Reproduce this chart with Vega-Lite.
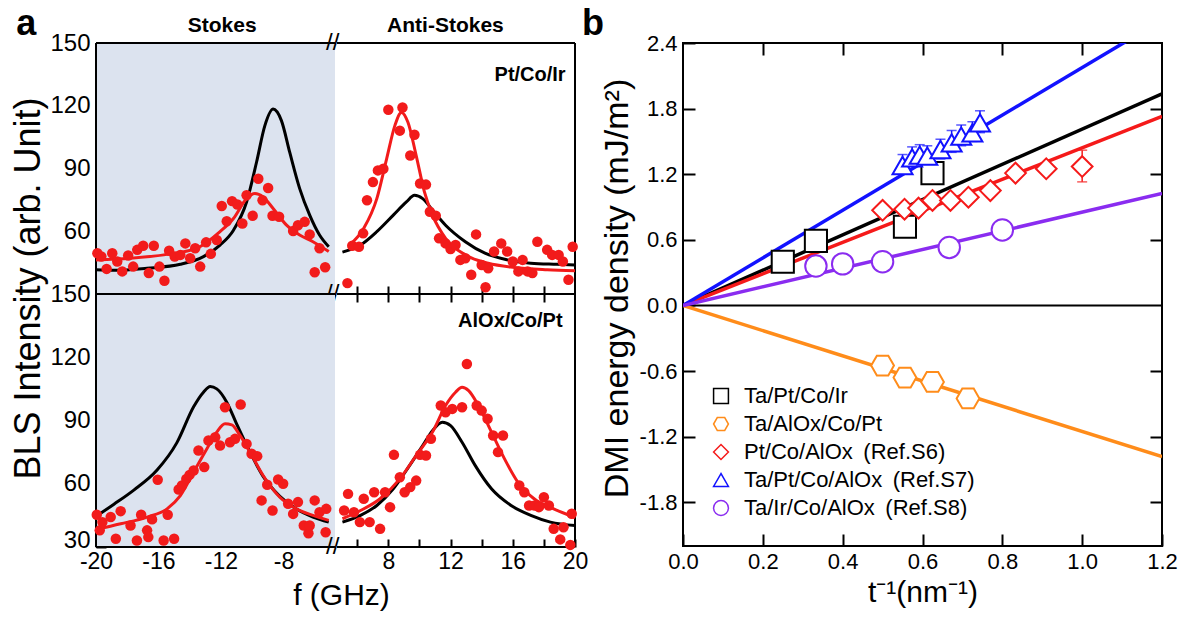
{
  "$schema": "https://vega.github.io/schema/vega-lite/v6.json",
  "padding": {"left": 9, "top": 4, "right": 5, "bottom": 5},
  "background": "white",
  "config": {
    "font": "Liberation Sans",
    "view": {"stroke": "black", "strokeWidth": 2},
    "axis": {"grid": false, "domain": false, "tickColor": "black", "tickWidth": 2, "labelColor": "black", "titleColor": "black", "labelFont": "Liberation Sans", "titleFont": "Liberation Sans", "titleFontWeight": "normal", "labelFlush": false, "labelOverlap": false}
  },
  "datasets": {
    "aPts": [
      {"p":"t","f":-19.91,"v":49.5},{"p":"t","f":-19.66,"v":47.9},{"p":"t","f":-19.32,"v":42.0},{"p":"t","f":-18.96,"v":49.5},{"p":"t","f":-18.64,"v":45.5},{"p":"t","f":-18.32,"v":40.8},{"p":"t","f":-17.94,"v":48.4},{"p":"t","f":-17.62,"v":43.1},{"p":"t","f":-17.36,"v":51.1},{"p":"t","f":-16.98,"v":53.1},{"p":"t","f":-16.62,"v":40.0},{"p":"t","f":-16.3,"v":53.1},{"p":"t","f":-15.94,"v":43.1},{"p":"t","f":-15.62,"v":36.3},{"p":"t","f":-15.32,"v":50.7},{"p":"t","f":-14.96,"v":47.9},{"p":"t","f":-14.6,"v":48.7},{"p":"t","f":-14.28,"v":54.2},{"p":"t","f":-13.97,"v":47.1},{"p":"t","f":-13.65,"v":51.9},{"p":"t","f":-13.33,"v":43.1},{"p":"t","f":-12.95,"v":54.7},{"p":"t","f":-12.65,"v":49.2},{"p":"t","f":-12.27,"v":55.8},{"p":"t","f":-11.95,"v":72.1},{"p":"t","f":-11.63,"v":64.8},{"p":"t","f":-11.29,"v":74.4},{"p":"t","f":-10.95,"v":72.8},{"p":"t","f":-10.63,"v":63.7},{"p":"t","f":-10.36,"v":77.2},{"p":"t","f":-9.97,"v":67.4},{"p":"t","f":-9.61,"v":85.1},{"p":"t","f":-9.34,"v":74.8},{"p":"t","f":-8.98,"v":80.7},{"p":"t","f":-8.7,"v":67.4},{"p":"t","f":-8.28,"v":66.9},{"p":"t","f":-7.38,"v":60.1},{"p":"t","f":-7.07,"v":62.9},{"p":"t","f":-6.64,"v":64.5},{"p":"t","f":-6.32,"v":58.5},{"p":"t","f":-6.0,"v":40.4},{"p":"t","f":-5.69,"v":51.9},{"p":"t","f":-5.33,"v":42.8},
      {"p":"t","f":5.37,"v":35.2},{"p":"t","f":5.68,"v":53.1},{"p":"t","f":6.11,"v":52.6},{"p":"t","f":6.38,"v":59.0},{"p":"t","f":6.63,"v":74.8},{"p":"t","f":7.01,"v":83.5},{"p":"t","f":7.33,"v":89.1},{"p":"t","f":7.68,"v":89.9},{"p":"t","f":8.0,"v":118.1},{"p":"t","f":8.74,"v":108.1},{"p":"t","f":8.91,"v":119.2},{"p":"t","f":9.41,"v":96.2},{"p":"t","f":9.68,"v":106.1},{"p":"t","f":10.04,"v":82.8},{"p":"t","f":10.42,"v":82.3},{"p":"t","f":10.67,"v":69.3},{"p":"t","f":11.05,"v":67.4},{"p":"t","f":11.26,"v":56.6},{"p":"t","f":11.68,"v":54.2},{"p":"t","f":12.0,"v":51.5},{"p":"t","f":12.32,"v":53.4},{"p":"t","f":12.63,"v":46.3},{"p":"t","f":12.95,"v":47.1},{"p":"t","f":13.33,"v":39.2},{"p":"t","f":13.64,"v":58.5},{"p":"t","f":14.0,"v":43.9},{"p":"t","f":14.25,"v":33.2},{"p":"t","f":14.42,"v":42.3},{"p":"t","f":14.8,"v":50.3},{"p":"t","f":15.26,"v":54.2},{"p":"t","f":15.64,"v":50.3},{"p":"t","f":16.0,"v":45.5},{"p":"t","f":16.36,"v":40.8},{"p":"t","f":16.63,"v":46.3},{"p":"t","f":16.95,"v":40.8},{"p":"t","f":17.26,"v":40.0},{"p":"t","f":17.58,"v":55.0},{"p":"t","f":18.21,"v":51.1},{"p":"t","f":18.53,"v":48.7},{"p":"t","f":18.95,"v":48.7},{"p":"t","f":19.22,"v":45.5},{"p":"t","f":19.58,"v":36.8},{"p":"t","f":19.85,"v":52.6},
      {"p":"b","f":-19.95,"v":45.3},{"p":"b","f":-19.76,"v":37.9},{"p":"b","f":-19.59,"v":41.8},{"p":"b","f":-19.06,"v":44.2},{"p":"b","f":-18.73,"v":33.9},{"p":"b","f":-18.42,"v":47.0},{"p":"b","f":-17.79,"v":40.2},{"p":"b","f":-17.38,"v":33.1},{"p":"b","f":-17.11,"v":45.3},{"p":"b","f":-16.73,"v":37.9},{"p":"b","f":-16.65,"v":34.7},{"p":"b","f":-16.41,"v":43.1},{"p":"b","f":-16.05,"v":61.9},{"p":"b","f":-15.67,"v":33.1},{"p":"b","f":-15.41,"v":45.3},{"p":"b","f":-15.0,"v":33.9},{"p":"b","f":-14.71,"v":57.3},{"p":"b","f":-14.5,"v":59.2},{"p":"b","f":-14.22,"v":62.3},{"p":"b","f":-14.01,"v":64.2},{"p":"b","f":-13.75,"v":66.3},{"p":"b","f":-13.44,"v":75.8},{"p":"b","f":-13.07,"v":67.9},{"p":"b","f":-12.8,"v":80.5},{"p":"b","f":-12.37,"v":82.1},{"p":"b","f":-12.06,"v":78.1},{"p":"b","f":-11.74,"v":96.3},{"p":"b","f":-11.42,"v":79.7},{"p":"b","f":-11.1,"v":81.3},{"p":"b","f":-10.74,"v":97.6},{"p":"b","f":-10.36,"v":78.9},{"p":"b","f":-10.04,"v":74.2},{"p":"b","f":-9.68,"v":73.1},{"p":"b","f":-9.4,"v":52.1},{"p":"b","f":-9.04,"v":59.5},{"p":"b","f":-8.7,"v":47.3},{"p":"b","f":-8.34,"v":62.0},{"p":"b","f":-8.02,"v":60.0},{"p":"b","f":-7.7,"v":50.5},{"p":"b","f":-7.38,"v":45.7},{"p":"b","f":-7.07,"v":51.3},{"p":"b","f":-6.7,"v":40.2},{"p":"b","f":-6.4,"v":36.5},{"p":"b","f":-6.32,"v":40.2},{"p":"b","f":-6.0,"v":52.1},{"p":"b","f":-5.69,"v":46.5},{"p":"b","f":-5.3,"v":37.0},{"p":"b","f":-5.26,"v":48.1},
      {"p":"b","f":5.16,"v":47.3},{"p":"b","f":5.41,"v":55.2},{"p":"b","f":5.79,"v":46.5},{"p":"b","f":6.17,"v":41.8},{"p":"b","f":6.42,"v":52.9},{"p":"b","f":6.8,"v":41.8},{"p":"b","f":7.09,"v":56.0},{"p":"b","f":7.47,"v":38.6},{"p":"b","f":7.79,"v":56.0},{"p":"b","f":8.11,"v":48.9},{"p":"b","f":8.36,"v":73.7},{"p":"b","f":8.74,"v":63.1},{"p":"b","f":9.05,"v":56.0},{"p":"b","f":9.41,"v":58.4},{"p":"b","f":9.79,"v":61.5},{"p":"b","f":10.04,"v":73.7},{"p":"b","f":10.42,"v":73.4},{"p":"b","f":10.74,"v":81.3},{"p":"b","f":11.37,"v":97.1},{"p":"b","f":11.68,"v":93.9},{"p":"b","f":12.11,"v":95.5},{"p":"b","f":12.74,"v":96.3},{"p":"b","f":13.05,"v":116.8},{"p":"b","f":13.68,"v":97.1},{"p":"b","f":14.0,"v":94.7},{"p":"b","f":14.38,"v":90.8},{"p":"b","f":14.74,"v":82.9},{"p":"b","f":15.05,"v":75.0},{"p":"b","f":15.37,"v":82.9},{"p":"b","f":16.42,"v":59.2},{"p":"b","f":16.74,"v":56.0},{"p":"b","f":17.05,"v":49.7},{"p":"b","f":17.41,"v":49.7},{"p":"b","f":17.68,"v":48.9},{"p":"b","f":18.0,"v":53.6},{"p":"b","f":18.32,"v":49.7},{"p":"b","f":18.63,"v":38.6},{"p":"b","f":19.05,"v":33.6},{"p":"b","f":19.26,"v":39.4},{"p":"b","f":19.7,"v":31.0},{"p":"b","f":19.79,"v":45.8}
    ],
    "aFit": [
      {"p":"t","c":"k","f":-20.0,"v":41.6},{"p":"t","c":"k","f":-18.85,"v":41.3},{"p":"t","c":"k","f":-16.73,"v":42.3},{"p":"t","c":"k","f":-14.6,"v":44.2},{"p":"t","c":"k","f":-13.12,"v":47.9},{"p":"t","c":"k","f":-12.06,"v":53.4},{"p":"t","c":"k","f":-11.2,"v":60.5},{"p":"t","c":"k","f":-10.36,"v":74.0},{"p":"t","c":"k","f":-9.72,"v":93.1},{"p":"t","c":"k","f":-9.19,"v":110.5},{"p":"t","c":"k","f":-8.66,"v":118.4},{"p":"t","c":"k","f":-8.13,"v":112.9},{"p":"t","c":"k","f":-7.6,"v":97.8},{"p":"t","c":"k","f":-6.96,"v":80.4},{"p":"t","c":"k","f":-6.32,"v":67.7},{"p":"t","c":"k","f":-5.69,"v":58.2},{"p":"t","c":"k","f":-5.1,"v":52.6},
      {"p":"t","c":"k","f":5.05,"v":50.0},{"p":"t","c":"k","f":6.21,"v":53.4},{"p":"t","c":"k","f":7.26,"v":59.8},{"p":"t","c":"k","f":8.32,"v":67.7},{"p":"t","c":"k","f":9.16,"v":74.0},{"p":"t","c":"k","f":9.68,"v":77.2},{"p":"t","c":"k","f":10.21,"v":75.6},{"p":"t","c":"k","f":10.84,"v":70.1},{"p":"t","c":"k","f":11.68,"v":62.9},{"p":"t","c":"k","f":12.95,"v":55.0},{"p":"t","c":"k","f":14.21,"v":49.5},{"p":"t","c":"k","f":15.68,"v":46.3},{"p":"t","c":"k","f":17.16,"v":44.7},{"p":"t","c":"k","f":18.84,"v":44.2},{"p":"t","c":"k","f":20.0,"v":43.9},
      {"p":"t","c":"r","f":-20.0,"v":46.3},{"p":"t","c":"r","f":-17.8,"v":47.1},{"p":"t","c":"r","f":-15.66,"v":48.7},{"p":"t","c":"r","f":-13.54,"v":51.9},{"p":"t","c":"r","f":-12.06,"v":59.8},{"p":"t","c":"r","f":-11.2,"v":66.1},{"p":"t","c":"r","f":-10.36,"v":75.6},{"p":"t","c":"r","f":-9.83,"v":78.0},{"p":"t","c":"r","f":-9.3,"v":76.4},{"p":"t","c":"r","f":-8.66,"v":70.9},{"p":"t","c":"r","f":-7.8,"v":62.9},{"p":"t","c":"r","f":-6.96,"v":58.2},{"p":"t","c":"r","f":-6.11,"v":55.0},{"p":"t","c":"r","f":-5.1,"v":50.3},
      {"p":"t","c":"r","f":5.47,"v":53.1},{"p":"t","c":"r","f":6.42,"v":61.4},{"p":"t","c":"r","f":7.26,"v":75.6},{"p":"t","c":"r","f":7.89,"v":94.6},{"p":"t","c":"r","f":8.42,"v":110.5},{"p":"t","c":"r","f":8.84,"v":116.8},{"p":"t","c":"r","f":9.26,"v":112.1},{"p":"t","c":"r","f":9.79,"v":96.2},{"p":"t","c":"r","f":10.32,"v":78.8},{"p":"t","c":"r","f":10.84,"v":67.7},{"p":"t","c":"r","f":11.68,"v":56.6},{"p":"t","c":"r","f":12.95,"v":48.7},{"p":"t","c":"r","f":14.42,"v":44.7},{"p":"t","c":"r","f":16.11,"v":42.7},{"p":"t","c":"r","f":18.21,"v":41.6},{"p":"t","c":"r","f":20.0,"v":41.1},
      {"p":"b","c":"k","f":-20.0,"v":44.5},{"p":"b","c":"k","f":-18.85,"v":50.3},{"p":"b","c":"k","f":-17.58,"v":57.0},{"p":"b","c":"k","f":-16.09,"v":66.5},{"p":"b","c":"k","f":-14.82,"v":79.5},{"p":"b","c":"k","f":-13.75,"v":96.5},{"p":"b","c":"k","f":-13.12,"v":103.4},{"p":"b","c":"k","f":-12.69,"v":106.1},{"p":"b","c":"k","f":-12.27,"v":105.0},{"p":"b","c":"k","f":-11.63,"v":98.7},{"p":"b","c":"k","f":-11.0,"v":88.4},{"p":"b","c":"k","f":-10.14,"v":75.0},{"p":"b","c":"k","f":-9.3,"v":63.5},{"p":"b","c":"k","f":-8.23,"v":54.0},{"p":"b","c":"k","f":-7.17,"v":48.0},{"p":"b","c":"k","f":-6.11,"v":44.2},{"p":"b","c":"k","f":-5.1,"v":41.8},
      {"p":"b","c":"k","f":5.05,"v":41.8},{"p":"b","c":"k","f":6.21,"v":45.0},{"p":"b","c":"k","f":7.26,"v":49.7},{"p":"b","c":"k","f":8.32,"v":57.6},{"p":"b","c":"k","f":9.37,"v":68.7},{"p":"b","c":"k","f":10.21,"v":78.1},{"p":"b","c":"k","f":10.84,"v":85.2},{"p":"b","c":"k","f":11.47,"v":89.2},{"p":"b","c":"k","f":12.0,"v":87.6},{"p":"b","c":"k","f":12.74,"v":79.7},{"p":"b","c":"k","f":13.58,"v":68.7},{"p":"b","c":"k","f":14.63,"v":57.6},{"p":"b","c":"k","f":15.89,"v":49.7},{"p":"b","c":"k","f":17.16,"v":45.0},{"p":"b","c":"k","f":18.42,"v":41.8},{"p":"b","c":"k","f":20.0,"v":40.2},
      {"p":"b","c":"r","f":-20.0,"v":38.3},{"p":"b","c":"r","f":-18.42,"v":41.0},{"p":"b","c":"r","f":-16.73,"v":44.2},{"p":"b","c":"r","f":-15.45,"v":48.1},{"p":"b","c":"r","f":-14.6,"v":54.4},{"p":"b","c":"r","f":-13.75,"v":65.5},{"p":"b","c":"r","f":-12.9,"v":76.6},{"p":"b","c":"r","f":-12.27,"v":84.5},{"p":"b","c":"r","f":-11.74,"v":88.4},{"p":"b","c":"r","f":-11.31,"v":87.9},{"p":"b","c":"r","f":-10.78,"v":82.9},{"p":"b","c":"r","f":-10.14,"v":75.0},{"p":"b","c":"r","f":-9.3,"v":63.9},{"p":"b","c":"r","f":-8.23,"v":53.6},{"p":"b","c":"r","f":-7.17,"v":48.1},{"p":"b","c":"r","f":-6.11,"v":45.0},{"p":"b","c":"r","f":-5.1,"v":42.6},
      {"p":"b","c":"r","f":5.05,"v":43.4},{"p":"b","c":"r","f":6.21,"v":47.3},{"p":"b","c":"r","f":7.47,"v":52.9},{"p":"b","c":"r","f":8.74,"v":62.3},{"p":"b","c":"r","f":9.79,"v":73.4},{"p":"b","c":"r","f":10.84,"v":84.5},{"p":"b","c":"r","f":11.68,"v":97.1},{"p":"b","c":"r","f":12.32,"v":103.4},{"p":"b","c":"r","f":12.74,"v":105.8},{"p":"b","c":"r","f":13.16,"v":104.2},{"p":"b","c":"r","f":13.79,"v":97.1},{"p":"b","c":"r","f":14.63,"v":84.5},{"p":"b","c":"r","f":15.47,"v":71.8},{"p":"b","c":"r","f":16.32,"v":60.8},{"p":"b","c":"r","f":17.37,"v":52.9},{"p":"b","c":"r","f":18.63,"v":48.1},{"p":"b","c":"r","f":20.0,"v":44.0}
    ],
    "bLines": [
      {"series":"Ta/Pt/Co/Ir","t":0,"y":0},{"series":"Ta/Pt/Co/Ir","t":1.2,"y":1.935},
      {"series":"Ta/AlOx/Co/Pt","t":0,"y":0},{"series":"Ta/AlOx/Co/Pt","t":1.2,"y":-1.383},
      {"series":"Pt/Co/AlOx (Ref.S6)","t":0,"y":0},{"series":"Pt/Co/AlOx (Ref.S6)","t":1.2,"y":1.73},
      {"series":"Ta/Pt/Co/AlOx (Ref.S7)","t":0,"y":0},{"series":"Ta/Pt/Co/AlOx (Ref.S7)","t":1.2,"y":2.61},
      {"series":"Ta/Ir/Co/AlOx (Ref.S8)","t":0,"y":0},{"series":"Ta/Ir/Co/AlOx (Ref.S8)","t":1.2,"y":1.023}
    ],
    "bPts": [
      {"series":"Ta/Pt/Co/Ir","t":0.25,"y":0.40},{"series":"Ta/Pt/Co/Ir","t":0.333,"y":0.59},{"series":"Ta/Pt/Co/Ir","t":0.556,"y":0.72},{"series":"Ta/Pt/Co/Ir","t":0.625,"y":1.21},
      {"series":"Ta/AlOx/Co/Pt","t":0.5,"y":-0.55},{"series":"Ta/AlOx/Co/Pt","t":0.556,"y":-0.66},{"series":"Ta/AlOx/Co/Pt","t":0.625,"y":-0.70},{"series":"Ta/AlOx/Co/Pt","t":0.714,"y":-0.85},
      {"series":"Pt/Co/AlOx (Ref.S6)","t":0.5,"y":0.87},{"series":"Pt/Co/AlOx (Ref.S6)","t":0.555,"y":0.88},{"series":"Pt/Co/AlOx (Ref.S6)","t":0.59,"y":0.89},{"series":"Pt/Co/AlOx (Ref.S6)","t":0.625,"y":0.96},{"series":"Pt/Co/AlOx (Ref.S6)","t":0.67,"y":0.96},{"series":"Pt/Co/AlOx (Ref.S6)","t":0.715,"y":0.99},{"series":"Pt/Co/AlOx (Ref.S6)","t":0.77,"y":1.05},{"series":"Pt/Co/AlOx (Ref.S6)","t":0.833,"y":1.21},{"series":"Pt/Co/AlOx (Ref.S6)","t":0.91,"y":1.25},{"series":"Pt/Co/AlOx (Ref.S6)","t":1.0,"y":1.27,"lo":1.13,"hi":1.42},
      {"series":"Ta/Pt/Co/AlOx (Ref.S7)","t":0.55,"y":1.28,"lo":1.2,"hi":1.38},{"series":"Ta/Pt/Co/AlOx (Ref.S7)","t":0.574,"y":1.35,"lo":1.27,"hi":1.45},{"series":"Ta/Pt/Co/AlOx (Ref.S7)","t":0.593,"y":1.374,"lo":1.29,"hi":1.47},{"series":"Ta/Pt/Co/AlOx (Ref.S7)","t":0.612,"y":1.365,"lo":1.28,"hi":1.46},{"series":"Ta/Pt/Co/AlOx (Ref.S7)","t":0.645,"y":1.426,"lo":1.34,"hi":1.52},{"series":"Ta/Pt/Co/AlOx (Ref.S7)","t":0.673,"y":1.486,"lo":1.4,"hi":1.6},{"series":"Ta/Pt/Co/AlOx (Ref.S7)","t":0.697,"y":1.548,"lo":1.46,"hi":1.65},{"series":"Ta/Pt/Co/AlOx (Ref.S7)","t":0.725,"y":1.578,"lo":1.5,"hi":1.68},{"series":"Ta/Pt/Co/AlOx (Ref.S7)","t":0.744,"y":1.67,"lo":1.58,"hi":1.78},
      {"series":"Ta/Ir/Co/AlOx (Ref.S8)","t":0.333,"y":0.36},{"series":"Ta/Ir/Co/AlOx (Ref.S8)","t":0.4,"y":0.38},{"series":"Ta/Ir/Co/AlOx (Ref.S8)","t":0.5,"y":0.40},{"series":"Ta/Ir/Co/AlOx (Ref.S8)","t":0.667,"y":0.53},{"series":"Ta/Ir/Co/AlOx (Ref.S8)","t":0.8,"y":0.69}
    ]
  },
  "hconcat": [
    {
      "columns": 2,
      "spacing": {"row": 0, "column": 2},
      "bounds": "flush",
      "concat": [
        {
          "width": 239, "height": 251, "view": {"stroke": null},
          "encoding": {
            "x": {"field": "f", "type": "quantitative", "scale": {"domain": [-20, -4.7], "nice": false, "zero": false},
                  "axis": {"orient": "bottom", "values": [-18,-16,-14,-12,-10,-8,-6], "labels": false, "tickSize": -8, "title": null}},
            "y": {"field": "v", "type": "quantitative", "scale": {"domain": [30, 150], "nice": false, "zero": false},
                  "axis": {"values": [45,60,75,90,105,120,135,150], "labelExpr": "datum.value % 30 == 0 ? datum.label : ''",
                           "tickSize": {"condition": {"test": "datum.value % 30 == 0", "value": -10}, "value": -5},
                           "labelPadding": 16, "labelFontSize": 24, "title": "BLS Intensity (arb. Unit)", "titleFontSize": 36, "titleY": 245, "titleX": -57, "titleBaseline": "alphabetic"}}
          },
          "layer": [
            {"data": {"values": [{"f": -20, "f2": -4.7, "v": 30, "v2": 150}]}, "mark": {"type": "rect", "color": "#dce3ef"},
             "encoding": {"x2": {"field": "f2"}, "y2": {"field": "v2"}}},
            {"data": {"values": [{"f": -20, "f2": -4.7, "v": 150}, {"f": -20, "f2": -4.7, "v": 30}]}, "mark": {"type": "rule", "strokeWidth": 2, "color": "black"},
             "encoding": {"x2": {"field": "f2"}}},
            {"data": {"values": [{"f": -20, "v": 30, "v2": 150}]}, "mark": {"type": "rule", "strokeWidth": 2, "color": "black"},
             "encoding": {"y2": {"field": "v2"}}},
            {"data": {"name": "aFit"}, "transform": [{"filter": "datum.p == 't' && datum.c == 'k' && datum.f < 0"}],
             "mark": {"type": "line", "strokeWidth": 3, "interpolate": "monotone", "color": "#000000"}},
            {"data": {"name": "aFit"}, "transform": [{"filter": "datum.p == 't' && datum.c == 'r' && datum.f < 0"}],
             "mark": {"type": "line", "strokeWidth": 3, "interpolate": "monotone", "color": "#f21b1b"}},
            {"data": {"name": "aPts"}, "transform": [{"filter": "datum.p == 't' && datum.f < 0"}],
             "mark": {"type": "circle", "size": 110, "color": "#f21b1b", "opacity": 1}},
            {"data": {"values": [{"f": -11.92, "v": 158.2, "txt": "Stokes"}]},
             "mark": {"type": "text", "align": "center", "baseline": "middle", "fontSize": 21, "fontWeight": "bold"},
             "encoding": {"text": {"field": "txt"}}},
            {"data": {"values": [{"f": -25.1, "v": 159.1, "txt": "a"}]},
             "mark": {"type": "text", "align": "left", "baseline": "middle", "fontSize": 36, "fontWeight": "bold"},
             "encoding": {"text": {"field": "txt"}}},
            {"data": {"values": [{"f": -4.85, "v": 150, "txt": "//"}, {"f": -4.85, "v": 30, "txt": "//"}]},
             "mark": {"type": "text", "align": "center", "baseline": "middle", "fontSize": 24},
             "encoding": {"text": {"field": "txt"}}}
          ]
        },
        {
          "width": 238, "height": 251, "view": {"stroke": null},
          "encoding": {
            "x": {"field": "f", "type": "quantitative", "scale": {"domain": [4.7, 20], "nice": false, "zero": false},
                  "axis": {"orient": "bottom", "values": [6,8,10,12,14,16,18], "labels": false, "tickSize": -8, "title": null}},
            "y": {"field": "v", "type": "quantitative", "scale": {"domain": [30, 150], "nice": false, "zero": false}, "axis": null}
          },
          "layer": [
            {"data": {"values": [{"f": 4.7, "f2": 20, "v": 150}, {"f": 4.7, "f2": 20, "v": 30}]}, "mark": {"type": "rule", "strokeWidth": 2, "color": "black"},
             "encoding": {"x2": {"field": "f2"}}},
            {"data": {"values": [{"f": 20, "v": 30, "v2": 150}]}, "mark": {"type": "rule", "strokeWidth": 2, "color": "black"},
             "encoding": {"y2": {"field": "v2"}}},
            {"data": {"name": "aFit"}, "transform": [{"filter": "datum.p == 't' && datum.c == 'k' && datum.f > 0"}],
             "mark": {"type": "line", "strokeWidth": 3, "interpolate": "monotone", "color": "#000000"}},
            {"data": {"name": "aFit"}, "transform": [{"filter": "datum.p == 't' && datum.c == 'r' && datum.f > 0"}],
             "mark": {"type": "line", "strokeWidth": 3, "interpolate": "monotone", "color": "#f21b1b"}},
            {"data": {"name": "aPts"}, "transform": [{"filter": "datum.p == 't' && datum.f > 0"}],
             "mark": {"type": "circle", "size": 110, "color": "#f21b1b", "opacity": 1}},
            {"data": {"values": [{"f": 11.67, "v": 158.2, "txt": "Anti-Stokes"}]},
             "mark": {"type": "text", "align": "center", "baseline": "middle", "fontSize": 21, "fontWeight": "bold"},
             "encoding": {"text": {"field": "txt"}}},
            {"data": {"values": [{"f": 19.4, "v": 134.9, "txt": "Pt/Co/Ir"}]},
             "mark": {"type": "text", "align": "right", "baseline": "middle", "fontSize": 20, "fontWeight": "bold"},
             "encoding": {"text": {"field": "txt"}}}
          ]
        },
        {
          "width": 239, "height": 253, "view": {"stroke": null},
          "layer": [
            {
              "encoding": {
                "x": {"field": "f", "type": "quantitative", "scale": {"domain": [-20, -4.7], "nice": false, "zero": false},
                      "axis": {"orient": "bottom", "values": [-20,-18,-16,-14,-12,-10,-8,-6],
                               "labelExpr": "datum.value % 4 == 0 ? '-' + abs(datum.value) : ''",
                               "tickSize": -8, "labelPadding": 11, "labelFontSize": 23, "title": "f (GHz)", "titleFontSize": 30, "titleX": 245, "titleY": 57, "titleBaseline": "alphabetic"}},
                "y": {"field": "v", "type": "quantitative", "scale": {"domain": [30, 150], "nice": false, "zero": false},
                      "axis": {"values": [30,45,60,75,90,105,120,135,150], "labelExpr": "datum.value % 30 == 0 ? datum.label : ''",
                               "tickSize": {"condition": {"test": "datum.value % 30 == 0", "value": -10}, "value": -5},
                               "labelBaseline": {"condition": {"test": "datum.value == 30", "value": "alphabetic"}, "value": "middle"},
                               "labelPadding": 16, "labelFontSize": 24, "title": null}}
              },
              "layer": [
                {"data": {"values": [{"f": -20, "f2": -4.7, "v": 30, "v2": 150}]}, "mark": {"type": "rect", "color": "#dce3ef"},
                 "encoding": {"x2": {"field": "f2"}, "y2": {"field": "v2"}}},
                {"data": {"values": [{"f": -20, "f2": -4.7, "v": 150}, {"f": -20, "f2": -4.7, "v": 30}]}, "mark": {"type": "rule", "strokeWidth": 2, "color": "black"},
                 "encoding": {"x2": {"field": "f2"}}},
                {"data": {"values": [{"f": -20, "v": 30, "v2": 150}]}, "mark": {"type": "rule", "strokeWidth": 2, "color": "black"},
                 "encoding": {"y2": {"field": "v2"}}},
                {"data": {"name": "aFit"}, "transform": [{"filter": "datum.p == 'b' && datum.c == 'k' && datum.f < 0"}],
                 "mark": {"type": "line", "strokeWidth": 3, "interpolate": "monotone", "color": "#000000"}},
                {"data": {"name": "aFit"}, "transform": [{"filter": "datum.p == 'b' && datum.c == 'r' && datum.f < 0"}],
                 "mark": {"type": "line", "strokeWidth": 3, "interpolate": "monotone", "color": "#f21b1b"}},
                {"data": {"name": "aPts"}, "transform": [{"filter": "datum.p == 'b' && datum.f < 0"}],
                 "mark": {"type": "circle", "size": 110, "color": "#f21b1b", "opacity": 1}},
                {"data": {"values": [{"f": -4.85, "v": 30, "txt": "//"}]},
                 "mark": {"type": "text", "align": "center", "baseline": "middle", "fontSize": 24},
                 "encoding": {"text": {"field": "txt"}}}
              ]
            },
            {"data": {"values": [{"f": -12, "v": 90}]}, "mark": {"type": "point", "opacity": 0},
             "encoding": {"x": {"field": "f", "type": "quantitative", "scale": {"domain": [-20, -4.7], "nice": false, "zero": false},
                                "axis": {"orient": "top", "values": [-18,-16,-14,-12,-10,-8,-6], "labels": false, "tickSize": -8, "title": null}}}}
          ],
          "resolve": {"axis": {"x": "independent"}}
        },
        {
          "width": 238, "height": 253, "view": {"stroke": null},
          "layer": [
            {
              "encoding": {
                "x": {"field": "f", "type": "quantitative", "scale": {"domain": [4.7, 20], "nice": false, "zero": false},
                      "axis": {"orient": "bottom", "values": [6,8,10,12,14,16,18,20],
                               "labelExpr": "datum.value % 4 == 0 ? datum.label : ''",
                               "tickSize": -8, "labelPadding": 11, "labelFontSize": 23, "title": null}},
                "y": {"field": "v", "type": "quantitative", "scale": {"domain": [30, 150], "nice": false, "zero": false}, "axis": null}
              },
              "layer": [
                {"data": {"values": [{"f": 4.7, "f2": 20, "v": 150}, {"f": 4.7, "f2": 20, "v": 30}]}, "mark": {"type": "rule", "strokeWidth": 2, "color": "black"},
                 "encoding": {"x2": {"field": "f2"}}},
                {"data": {"values": [{"f": 20, "v": 30, "v2": 150}]}, "mark": {"type": "rule", "strokeWidth": 2, "color": "black"},
                 "encoding": {"y2": {"field": "v2"}}},
                {"data": {"name": "aFit"}, "transform": [{"filter": "datum.p == 'b' && datum.c == 'k' && datum.f > 0"}],
                 "mark": {"type": "line", "strokeWidth": 3, "interpolate": "monotone", "color": "#000000"}},
                {"data": {"name": "aFit"}, "transform": [{"filter": "datum.p == 'b' && datum.c == 'r' && datum.f > 0"}],
                 "mark": {"type": "line", "strokeWidth": 3, "interpolate": "monotone", "color": "#f21b1b"}},
                {"data": {"name": "aPts"}, "transform": [{"filter": "datum.p == 'b' && datum.f > 0"}],
                 "mark": {"type": "circle", "size": 110, "color": "#f21b1b", "opacity": 1}},
                {"data": {"values": [{"f": 19.2, "v": 137.1, "txt": "AlOx/Co/Pt"}]},
                 "mark": {"type": "text", "align": "right", "baseline": "middle", "fontSize": 20, "fontWeight": "bold"},
                 "encoding": {"text": {"field": "txt"}}}
              ]
            },
            {"data": {"values": [{"f": 12, "v": 90}]}, "mark": {"type": "point", "opacity": 0},
             "encoding": {"x": {"field": "f", "type": "quantitative", "scale": {"domain": [4.7, 20], "nice": false, "zero": false},
                                "axis": {"orient": "top", "values": [6,8,10,12,14,16,18], "labels": false, "tickSize": -8, "title": null}}}}
          ],
          "resolve": {"axis": {"x": "independent"}}
        }
      ]
    },
    {
      "width": 479, "height": 503,
      "layer": [
        {"layer": [
          {"data": {"values": [{"z": 0}]}, "mark": {"type": "rule", "strokeWidth": 2, "color": "black"},
           "encoding": {"y": {"field": "z", "type": "quantitative", "scale": {"domain": [-2.2, 2.4], "nice": false, "zero": false},
                              "axis": {"values": [-1.8,-1.2,-0.6,0,0.6,1.2,1.8,2.4], "labelExpr": "replace(format(datum.value, '.1f'), '\u2212', '-')",
                                       "tickSize": -12, "labelPadding": 18, "labelFontSize": 22, "title": "DMI energy density (mJ/m\u00b2)", "titleFontSize": 34, "titleX": -56, "titleY": 245, "titleBaseline": "alphabetic"}}}},
          {"data": {"name": "bLines"}, "mark": {"type": "line", "strokeWidth": 3.5, "clip": true},
           "encoding": {
             "x": {"field": "t", "type": "quantitative", "scale": {"domain": [0, 1.2], "nice": false, "zero": false},
                   "axis": {"values": [0,0.2,0.4,0.6,0.8,1.0,1.2], "format": ".1f", "tickSize": -12, "labelPadding": 17, "labelFontSize": 22, "title": "t\u207b\u00b9(nm\u207b\u00b9)", "titleFontSize": 30, "titleY": 55, "titleBaseline": "alphabetic"}},
             "y": {"field": "y", "type": "quantitative"},
             "color": {"field": "series", "type": "nominal", "scale": {"domain": ["Ta/Ir/Co/AlOx (Ref.S8)", "Ta/Pt/Co/AlOx (Ref.S7)", "Pt/Co/AlOx (Ref.S6)", "Ta/AlOx/Co/Pt", "Ta/Pt/Co/Ir"], "range": ["#8a2cf0", "#1212ff", "#f51a1a", "#ff8c1a", "#000000"]}, "legend": null}}},
          {"data": {"name": "bPts"}, "transform": [{"filter": "isValid(datum.lo)"}],
           "mark": {"type": "rule", "strokeWidth": 1.5},
           "encoding": {"x": {"field": "t", "type": "quantitative"}, "y": {"field": "lo", "type": "quantitative"}, "y2": {"field": "hi"},
                        "color": {"field": "series", "type": "nominal", "legend": null}}},
          {"data": {"name": "bPts"}, "transform": [{"filter": "isValid(datum.lo)"}, {"fold": ["lo", "hi"], "as": ["k", "cap"]}],
           "mark": {"type": "tick", "orient": "horizontal", "size": 10, "thickness": 1.5},
           "encoding": {"x": {"field": "t", "type": "quantitative"}, "y": {"field": "cap", "type": "quantitative"},
                        "color": {"field": "series", "type": "nominal", "legend": null}}},
          {"data": {"name": "bPts"},
           "mark": {"type": "point", "filled": true, "fill": "white", "strokeWidth": 2, "opacity": 1},
           "encoding": {
             "x": {"field": "t", "type": "quantitative"}, "y": {"field": "y", "type": "quantitative"},
             "stroke": {"field": "series", "type": "nominal", "scale": {"domain": ["Ta/Pt/Co/Ir", "Ta/AlOx/Co/Pt", "Pt/Co/AlOx (Ref.S6)", "Ta/Pt/Co/AlOx (Ref.S7)", "Ta/Ir/Co/AlOx (Ref.S8)"], "range": ["#000000", "#ff8c1a", "#f51a1a", "#1212ff", "#8a2cf0"]},
                        "legend": {"orient": "bottom-left", "offset": 27, "title": null, "labelFontSize": 22, "labelFont": "Liberation Sans", "labelColor": "black", "labelLimit": 500, "labelExpr": "replace(datum.label, ' (', '\u00a0\u2009(')", "symbolSize": 220, "symbolStrokeWidth": 1.5, "symbolFillColor": "white", "rowPadding": 6, "labelOffset": 12, "padding": 0}},
             "shape": {"field": "series", "type": "nominal", "scale": {"domain": ["Ta/Pt/Co/Ir", "Ta/AlOx/Co/Pt", "Pt/Co/AlOx (Ref.S6)", "Ta/Pt/Co/AlOx (Ref.S7)", "Ta/Ir/Co/AlOx (Ref.S8)"], "range": ["square", "M-1,0L-0.5,-0.866L0.5,-0.866L1,0L0.5,0.866L-0.5,0.866Z", "diamond", "triangle-up", "circle"]},
                       "legend": {"orient": "bottom-left", "offset": 27, "title": null, "labelFontSize": 22, "labelFont": "Liberation Sans", "labelColor": "black", "labelLimit": 500, "labelExpr": "replace(datum.label, ' (', '\u00a0\u2009(')", "symbolSize": 220, "symbolStrokeWidth": 1.5, "symbolFillColor": "white", "rowPadding": 6, "labelOffset": 12, "padding": 0}},
             "size": {"field": "series", "type": "nominal", "scale": {"domain": ["Ta/AlOx/Co/Pt", "Ta/Pt/Co/Ir", "Ta/Ir/Co/AlOx (Ref.S8)", "Pt/Co/AlOx (Ref.S6)", "Ta/Pt/Co/AlOx (Ref.S7)"], "range": [520, 400, 400, 620, 420]}, "legend": null}}},
          {"data": {"values": [{"t": -0.253, "y": 2.574, "txt": "b"}]},
           "mark": {"type": "text", "align": "left", "baseline": "middle", "fontSize": 36, "fontWeight": "bold"},
           "encoding": {"x": {"field": "t", "type": "quantitative"}, "y": {"field": "y", "type": "quantitative"}, "text": {"field": "txt"}}}
        ]},
        {"data": {"values": [{"t": 0.5, "y": 0}]}, "mark": {"type": "point", "opacity": 0},
         "encoding": {
           "x": {"field": "t", "type": "quantitative", "scale": {"domain": [0, 1.2], "nice": false, "zero": false},
                 "axis": {"orient": "top", "values": [0.2,0.4,0.6,0.8,1.0], "labels": false, "tickSize": -12, "title": null}},
           "y": {"field": "y", "type": "quantitative", "scale": {"domain": [-2.2, 2.4], "nice": false, "zero": false},
                 "axis": {"orient": "right", "values": [-1.8,-1.2,-0.6,0.6,1.2,1.8], "labels": false, "tickSize": -12, "title": null}}}}
      ],
      "resolve": {"axis": {"x": "independent", "y": "independent"}}
    }
  ],
  "spacing": -7,
  "resolve": {"scale": {"color": "independent", "stroke": "independent", "shape": "independent", "size": "independent"}, "legend": {"stroke": "independent", "shape": "independent", "size": "independent", "color": "independent"}}
}
